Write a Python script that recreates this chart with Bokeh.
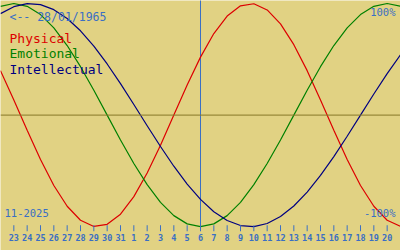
from bokeh.plotting import figure
from bokeh.models import Range1d, Span, Label
from bokeh.core.properties import value
from bokeh.embed import file_html
from bokeh.resources import INLINE

# ---- data ----
day_labels = [22, 23, 24, 25, 26, 27, 28, 29, 30, 31,
              1, 2, 3, 4, 5, 6, 7, 8, 9, 10,
              11, 12, 13, 14, 15, 16, 17, 18, 19, 20, 21]
physical = [0.3984, 0.1362, -0.1362, -0.3984, -0.6311, -0.8170, -0.9423, -0.9977,
            -0.9791, -0.8879, -0.7308, -0.5196, -0.2698, 0.0, 0.2698, 0.5196,
            0.7308, 0.8879, 0.9791, 0.9977, 0.9423, 0.8170, 0.6311, 0.3984,
            0.1362, -0.1362, -0.3984, -0.6311, -0.8170, -0.9423, -0.9977]
emotional = [0.9749, 1.0, 0.9749, 0.9010, 0.7818, 0.6235, 0.4339, 0.2225,
             0.0, -0.2225, -0.4339, -0.6235, -0.7818, -0.9010, -0.9749, -1.0,
             -0.9749, -0.9010, -0.7818, -0.6235, -0.4339, -0.2225, 0.0, 0.2225,
             0.4339, 0.6235, 0.7818, 0.9010, 0.9749, 1.0, 0.9749]
intellectual = [0.9096, 0.9718, 0.9989, 0.9898, 0.9450, 0.8660, 0.7557, 0.6182,
                0.4582, 0.2817, 0.0951, -0.0951, -0.2817, -0.4582, -0.6182, -0.7557,
                -0.8660, -0.9450, -0.9898, -0.9989, -0.9718, -0.9096, -0.8146, -0.6901,
                -0.5406, -0.3717, -0.1893, 0.0, 0.1893, 0.3717, 0.5406]
today_index = 15
series_names = ["Physical", "Emotional", "Intellectual"]
birth_text = "<-- 28/01/1965"
month_text = "11-2025"
top_text = "100%"
bottom_text = "-100%"

# ---- style ----
BG = "#e1d283"
BLUE = "#3a6fc4"
COLORS = ["#dd0000", "#008000", "#000080"]
MONO = "DejaVu Sans Mono"

x = list(range(len(day_labels)))

p = figure(width=400, height=250, output_backend="svg", toolbar_location=None,
           x_range=Range1d(0, len(day_labels) - 1), y_range=Range1d(-1.2135, 1.027),
           x_axis_type=None, y_axis_type=None,
           min_border=0, min_border_left=0, min_border_right=0,
           min_border_top=0, min_border_bottom=0)
p.grid.visible = False
p.outline_line_color = None
p.background_fill_color = BG
p.border_fill_color = BG

# zero line
p.add_layout(Span(location=0, dimension="width", line_color="#877828", line_width=1))

# today line
p.segment(x0=[today_index], x1=[today_index], y0=[-1.0], y1=[1.2],
          line_color=BLUE, line_width=1)

for vals, col in zip([physical, emotional, intellectual], COLORS):
    p.line(x, vals, line_color=col, line_width=1.2)

# day ticks and labels
tick_x = x[1:-1]
tick_lab = [str(d) for d in day_labels[1:-1]]
p.segment(x0=tick_x, x1=tick_x, y0=[-0.987] * len(tick_x), y1=[-1.041] * len(tick_x),
          line_color=BLUE, line_width=1)
p.text(x=tick_x, y=[-1.093] * len(tick_x), text=tick_lab, text_align="center",
       text_baseline="alphabetic", text_color=BLUE, text_font=value(MONO),
       text_font_size=value("8.5px"), text_font_style="bold")

# texts
def lab(txt, sx, sy, col, size, align="left"):
    p.add_layout(Label(x=sx, y=sy + 5, x_units="screen", y_units="screen", text=txt,
                       text_color=col, text_font=MONO, text_font_size=size,
                       text_align=align, text_baseline="alphabetic"))

lab(birth_text, 9, 250 - 21, BLUE, "11.5px")
for i, (nm, col) in enumerate(zip(series_names, COLORS)):
    lab(nm, 9, 250 - (43 + 15.3 * i), col, "13px")
lab(top_text, 395, 250 - 16.5, BLUE, "10.5px", "right")
lab(bottom_text, 395, 250 - 217, BLUE, "10.5px", "right")
lab(month_text, 4, 250 - 217, BLUE, "10.5px")

open("out.html", "w").write(file_html(p, INLINE))
